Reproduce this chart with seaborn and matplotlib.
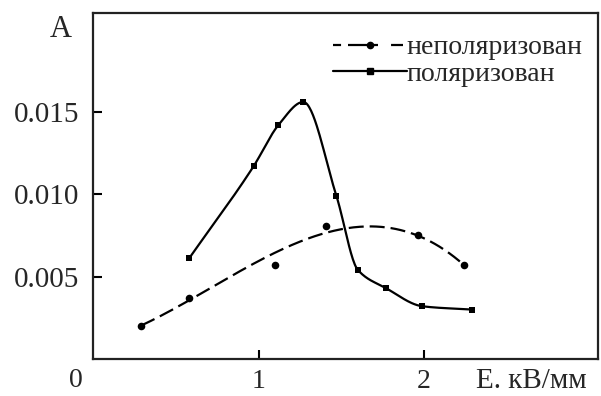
import numpy as np
import pandas as pd
import matplotlib
matplotlib.use("Agg")
import matplotlib.pyplot as plt
from matplotlib.lines import Line2D
import seaborn as sns

# Absorbance vs. field strength
e_unpol = [0.29, 0.58, 1.10, 1.41, 1.96, 2.24]
a_unpol = [0.0020, 0.0037, 0.0057, 0.0081, 0.0075, 0.0057]
w_unpol = [3, 2, 1, 1, 3, 3]  # fit weights for the trend curve

e_pol = [0.58, 0.97, 1.12, 1.27, 1.47, 1.60, 1.77, 1.99, 2.29]
a_pol = [0.0061, 0.0117, 0.0142, 0.0156, 0.0099, 0.0054, 0.0043, 0.0032, 0.0030]

label_unpol = "неполяризован"
label_pol = "поляризован"
y_ticks = [0.005, 0.010, 0.015]
y_tick_labels = ["0.005", "0.010", "0.015"]
x_ticks = [1, 2]
x_tick_labels = ["1", "2"]


def pchip(x, y, xn):
    """Monotone piecewise cubic Hermite curve through (x, y)."""
    x = np.asarray(x, float)
    y = np.asarray(y, float)
    h = np.diff(x)
    d = np.diff(y) / h
    m = np.zeros_like(y)
    for k in range(1, len(x) - 1):
        if d[k - 1] * d[k] > 0:
            w1 = 2 * h[k] + h[k - 1]
            w2 = h[k] + 2 * h[k - 1]
            m[k] = (w1 + w2) / (w1 / d[k - 1] + w2 / d[k])
    m[0] = d[0]
    m[-1] = d[-1]
    idx = np.clip(np.searchsorted(x, xn) - 1, 0, len(x) - 2)
    t = (xn - x[idx]) / h[idx]
    h00 = 2 * t**3 - 3 * t**2 + 1
    h10 = t**3 - 2 * t**2 + t
    h01 = -2 * t**3 + 3 * t**2
    h11 = t**3 - t**2
    return h00 * y[idx] + h10 * h[idx] * m[idx] + h01 * y[idx + 1] + h11 * h[idx] * m[idx + 1]


sns.set_style("ticks")
plt.rcParams["font.family"] = ["Liberation Serif", "DejaVu Serif"]
plt.rcParams["lines.scale_dashes"] = False

fig = plt.figure(figsize=(6.01, 3.96), dpi=100)
ax = fig.add_axes([93 / 601, 1 - 359 / 396, 505 / 601, 346 / 396])

# smooth trend curves
xs_u = np.linspace(min(e_unpol), max(e_unpol), 200)
coef = np.polyfit(e_unpol, a_unpol, 3, w=w_unpol)
fit_u = pd.DataFrame({"E": xs_u, "A": np.polyval(coef, xs_u)})
xs_p = np.linspace(min(e_pol), max(e_pol), 300)
fit_p = pd.DataFrame({"E": xs_p, "A": pchip(e_pol, a_pol, xs_p)})

sns.lineplot(data=fit_u, x="E", y="A", ax=ax, color="black", lw=1.6)
ax.lines[-1].set_dashes((10.8, 4.3))
sns.lineplot(data=fit_p, x="E", y="A", ax=ax, color="black", lw=1.6)

pts_u = pd.DataFrame({"E": e_unpol, "A": a_unpol})
pts_p = pd.DataFrame({"E": e_pol, "A": a_pol})
sns.scatterplot(data=pts_u, x="E", y="A", ax=ax, color="black", marker="o",
                s=30, linewidth=0, zorder=3)
sns.scatterplot(data=pts_p, x="E", y="A", ax=ax, color="black", marker="s",
                s=24, linewidth=0, zorder=3)

ax.set_xlim(0, 3.05)
ax.set_ylim(0, 0.021)
ax.set_xticks(x_ticks)
ax.set_xticklabels(x_tick_labels)
ax.set_yticks(y_ticks)
ax.set_yticklabels(y_tick_labels)
ax.set_xlabel("")
ax.set_ylabel("")
ax.tick_params(direction="in", length=6.5, width=1.5, labelsize=21, color="black")
ax.tick_params(axis="y", pad=10)
ax.tick_params(axis="x", labelsize=20, pad=7)
for sp in ax.spines.values():
    sp.set_visible(True)
    sp.set_linewidth(1.6)
    sp.set_color("#222222")

ax.annotate("0", xy=(0, 0), xycoords="axes fraction", xytext=(-12.5, -15.5),
            textcoords="offset points", ha="center", va="center", fontsize=20)
ax.annotate("A", xy=(0, 1), xycoords="axes fraction", xytext=(-23, -12.2),
            textcoords="offset points", ha="center", va="center", fontsize=22)
ax.annotate("E. кВ/мм", xy=(1, 0), xycoords="axes fraction", xytext=(-48, -15.5),
            textcoords="offset points", ha="center", va="center", fontsize=21)

h_u = Line2D([], [], color="black", lw=1.6, marker="o", ms=4.5,
             linestyle=(0, (5.8, 5.0, 21.6, 9.4, 8.6)))
h_p = Line2D([], [], color="black", lw=1.6, marker="s", ms=4.0)
ax.legend([h_u, h_p], [label_unpol, label_pol], loc="upper left",
          bbox_to_anchor=((333 - 93) / 505, 1 - (35 - 13) / 346),
          frameon=False, fontsize=20, handlelength=2.66, handletextpad=0.0,
          labelspacing=0.03, borderpad=0, borderaxespad=0)

fig.savefig("out.png", dpi=100)
